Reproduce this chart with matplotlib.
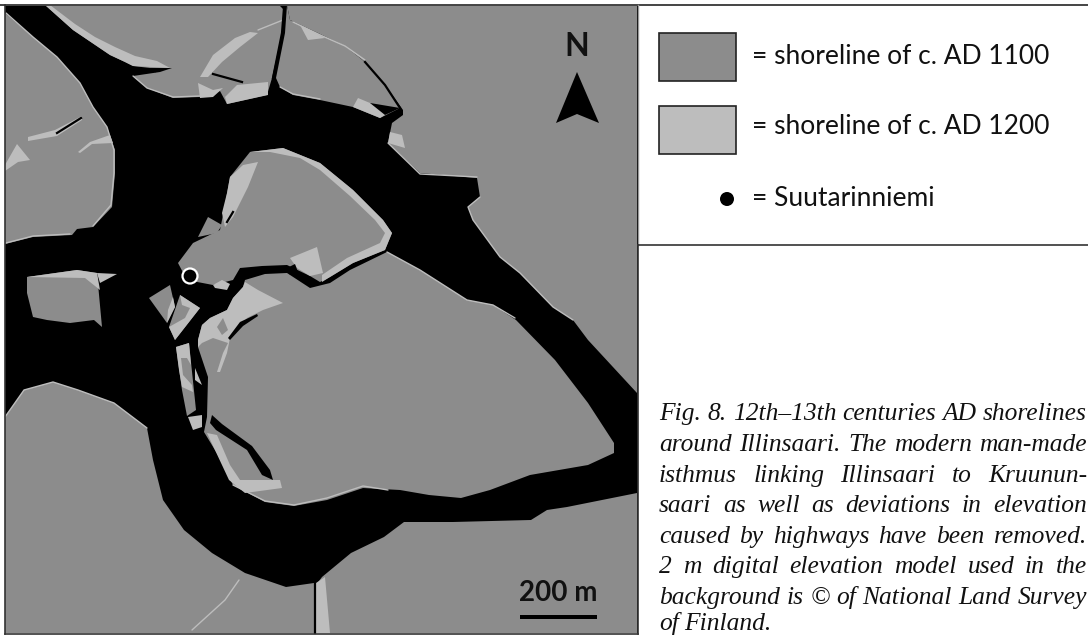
import matplotlib
matplotlib.use("Agg")
import matplotlib.pyplot as plt
from matplotlib.patches import Polygon, Rectangle, Circle

GRAY = "#8c8c8c"; LIGHT = "#bdbdbd"; BLACK = "#000000"

# ---- land of c. AD 1100 (map pixel coordinates)
land_west = [(5,13),(33,37),(57,57),(80,83),(93,107),(107,127),(115,150),(115,173),(112,207),(93,227),(77,229),(72,235),(33,237),(5,244)]
land_north_a = [(45,5),(73,30),(110,55),(125,62),(133,66),(150,68),(172,68),(160,72),(133,76),(147,88),(173,98),(200,97),(220,91),(227,104),(267,95),(272,78),(282,33),(284,10),(279,5)]
land_north_b = [(287,5),(285,33),(276,78),(280,87),(293,95),(320,100),(353,107),(380,118),(392,112),(400,108),(385,85),(365,62),(345,46),(320,34),(290,20),(287,5)]
land_ne = [(287,5),(290,20),(320,34),(345,46),(365,62),(385,85),(403,110),(403,115),(392,123),(388,143),(420,173),(477,178),(480,197),(468,207),(473,220),(500,257),(520,273),(553,307),(573,320),(588,340),(637,393),(637,5)]
land_upper = [(178,263),(193,243),(220,230),(225,205),(230,177),(250,152),(283,148),(320,163),(353,190),(383,220),(392,233),(385,250),(353,263),(330,277),(320,282),(310,276),(287,265),(262,266),(240,268),(233,280),(213,285),(187,280)]
land_big = [(387,252),(420,270),(467,300),(493,305),(516,320),(555,360),(588,403),(614,443),(614,453),(588,465),(530,475),(490,490),(461,498),(429,495),(400,490),(363,488),(327,500),(294,506),(265,502),(233,485),(218,455),(204,432),(207,417),(208,377),(198,347),(198,340),(202,325),(210,318),(227,310),(233,298),(243,287),(245,280),(265,274),(287,273),(310,288),(330,283),(350,270)]
land_southwest = [(5,417),(24,390),(53,382),(78,390),(114,403),(147,428),(153,460),(163,500),(184,530),(212,553),(245,573),(286,587),(314,583),(314,633),(5,633)]
land_southeast = [(316,633),(316,585),(322,577),(351,553),(384,537),(404,522),(453,522),(531,520),(547,510),(567,507),(637,493),(637,633)]
land_islet_w = [(27,277),(77,270),(97,273),(102,327),(94,320),(70,323),(47,320),(33,317),(27,293)]
land_tri = [(208,217),(222,225),(217,233),(198,237)]
land_islet_a = [(149,298),(170,285),(175,307),(167,323)]
land_islet_b = [(180,295),(200,308),(175,340),(169,327)]
land_long = [(176,347),(189,343),(196,410),(187,416),(182,390)]
lands = [land_west, land_north_a, land_north_b, land_ne, land_upper, land_big, land_southwest, land_southeast, land_islet_w, land_tri, land_islet_a, land_islet_b, land_long]

# ---- land emerged by c. AD 1200
light_band_a = [(45,5),(73,30),(110,55),(125,62),(133,66),(170,68),(157,61),(135,56),(115,47),(95,37),(75,24),(50,5)]
light_fan = [(200,77),(213,55),(235,38),(250,32),(258,33),(240,47),(222,62),(208,77)]
light_bay1 = [(198,83),(213,90),(223,88),(213,97),(200,98)]
light_bay2 = [(227,104),(268,95),(268,82),(237,85),(225,97)]
light_w1 = [(28,137),(55,130),(82,116),(82,120),(57,136),(28,141)]
light_w2 = [(78,152),(90,142),(110,135),(113,143),(92,144),(80,153)]
light_w3 = [(5,165),(17,144),(30,160),(18,162),(5,171)]
light_n_b = [(300,25),(325,38),(308,40)]
light_upper_n = [(250,152),(283,148),(320,163),(320,170),(300,158),(270,152)]
light_upper_e = [(320,163),(353,190),(383,220),(392,233),(385,250),(353,263),(330,277),(322,282),(322,275),(347,258),(380,243),(385,233),(375,220),(350,196),(320,170)]
light_upper_w = [(230,177),(243,165),(258,162),(248,187),(233,217),(225,227),(222,213),(227,193)]
light_upper_s = [(213,285),(222,280),(230,284),(227,290),(215,288)]
light_spit = [(353,107),(380,118),(390,112),(370,103),(358,98)]
light_harbour = [(390,132),(402,135),(405,148),(388,143)]
light_neck_e = [(290,258),(317,247),(323,273),(310,276),(297,268)]
light_neck_w = [(198,340),(202,325),(210,318),(227,310),(233,298),(243,287),(245,282),(258,290),(283,303),(263,310),(247,318),(230,338),(227,353),(220,372),(217,372),(223,353),(228,343),(213,338),(202,343),(198,347)]
light_isl_w_top = [(27,277),(77,270),(97,273),(100,290),(85,278)]
light_isl_w_tip = [(97,273),(117,274),(100,283)]
light_isl_a = [(173,297),(175,307),(167,323),(168,310)]
light_isl_b = [(180,295),(200,308),(175,340),(169,327),(185,318),(190,308),(182,305)]
light_long_top = [(176,347),(189,343),(191,365),(187,358),(181,358),(183,375),(192,385),(193,392),(182,387),(179,370)]
light_slim = [(195,368),(202,385),(195,380)]
light_small_isl = [(188,417),(202,415),(202,427),(193,430)]
light_hook = [(207,433),(217,435),(230,465),(240,480),(280,480),(282,488),(245,493),(229,480)]
light_south = [(316,583),(325,577),(330,633),(314,633)]
lights = [light_band_a, light_fan, light_bay1, light_bay2, light_w1, light_w2, light_w3, light_n_b, light_upper_n, light_upper_e, light_upper_w, light_upper_s, light_spit, light_harbour, light_neck_e, light_neck_w, light_isl_w_top, light_isl_w_tip, light_isl_a, light_isl_b, light_long_top, light_slim, light_small_isl, light_hook, light_south]
gray_in_neck = [(217,327),(223,318),(228,330),(222,335)]

# thin shores of AD 1200
coast_west = [(6,13),(33,37),(57,57),(80,83),(93,107),(107,127),(114,150),(114,173),(111,205),(93,226)]
coast_west_s = [(6,243),(33,236),(70,234)]
coast_lobe = [(133,76),(147,88),(173,97),(200,96)]
coast_b = [(280,87),(293,94),(320,99)]
coast_lobe_b = [(293,22),(320,35),(345,46),(365,60)]
coast_ne1 = [(388,143),(420,174),(477,177)]
coast_ne2 = [(480,197),(468,207),(473,220),(500,257),(520,273),(553,307),(573,320)]
coast_big_n = [(387,252),(420,270),(467,300),(493,305),(515,318)]
coast_big_s = [(233,485),(265,501),(294,505),(327,498),(363,486),(388,490)]
coast_sw = [(5,417),(24,390),(53,382),(78,390),(114,403),(147,428)]
coast_road = [(239,580),(225,600),(192,630)]
coast_thin = [(258,30),(283,20)]
coasts = [coast_west, coast_west_s, coast_lobe, coast_b, coast_lobe_b, coast_ne1, coast_ne2, coast_big_n, coast_big_s, coast_sw, coast_road, coast_thin]

# black slits and channels
slit_north = [(284,8),(282,33),(273,78)]
slit_bay = [(213,74),(242,82)]
slit_w = [(57,133),(81,118)]
slit_b = [(365,62),(385,85),(400,108)]
slit_south = [(315,583),(315,633)]
slit_upper = [(233,212),(227,222)]
slit_isl = [(155,71),(150,70)]
slits = [slit_north, slit_bay, slit_w, slit_b, slit_south, slit_upper, slit_isl]
channel_small = [(210,423),(216,430),(247,450),(262,475),(273,480),(270,470),(252,446),(222,424),(212,415)]
channel_gap = [(370,103),(400,108),(385,115)]
channel_neck = [(228,338),(240,322),(257,314),(258,316),(243,326),(230,340)]
channel_pool = [(287,268),(295,264),(298,272),(290,275)]

north_arrow = [(577,72),(556,123),(577,114),(599,123)]
site_xy = (190,276)
legend_labels = ["= shoreline of c. AD 1100", "= shoreline of c. AD 1200", "= Suutarinniemi"]
caption_lines = ["Fig. 8. 12th–13th centuries AD shorelines",
                 "around Illinsaari. The modern man-made",
                 "isthmus linking Illinsaari to Kruunun-",
                 "saari as well as deviations in elevation",
                 "caused by highways have been removed.",
                 "2 m digital elevation model used in the",
                 "background is © of National Land Survey",
                 "of Finland."]
caption_base = [420,451,482,512,543,573,604,630]

fig = plt.figure(figsize=(10.88,6.35), dpi=100)
ax = fig.add_axes([0,0,1,1]); ax.set_xlim(0,1088); ax.set_ylim(635,0); ax.axis("off")

ax.add_patch(Rectangle((5,5),633,628,fc=BLACK,ec="none",zorder=1))
for p in lands:
    ax.add_patch(Polygon(p,closed=True,fc=GRAY,ec="none",zorder=2))
for p in lights:
    ax.add_patch(Polygon(p,closed=True,fc=LIGHT,ec="none",zorder=3))
ax.add_patch(Polygon(gray_in_neck,closed=True,fc=GRAY,ec="none",zorder=3.5))
for p in coasts:
    ax.plot(*zip(*p),color=LIGHT,lw=1.0,zorder=3,solid_capstyle="round")
for p in slits:
    ax.plot(*zip(*p),color=BLACK,lw=1.6,zorder=4)
for p in [channel_small, channel_gap, channel_neck, channel_pool]:
    ax.add_patch(Polygon(p,closed=True,fc=BLACK,ec="none",zorder=4))

# frame
FR = "#333333"
ax.plot([0,1088],[5,5],color="#444444",lw=1.4,zorder=6)
ax.plot([5,5],[5,634],color=FR,lw=1.2,zorder=6)
ax.plot([5,638],[634,634],color=FR,lw=1.2,zorder=6)
ax.plot([638,638],[5,245],color="#999999",lw=1.0,zorder=6)
ax.plot([638,638],[245,634],color=FR,lw=1.2,zorder=6)
ax.plot([638,1088],[245,245],color="#333333",lw=1.2,zorder=6)

# site
ax.add_patch(Circle(site_xy,7.5,fc=BLACK,ec="white",lw=1.6,zorder=7))
# north
ax.add_patch(Polygon(north_arrow,closed=True,fc=BLACK,ec="none",zorder=7))
ax.text(577,47,"N",family="Lato",weight="bold",fontsize=23,ha="center",va="center",color="#111111",zorder=7)
# scale
ax.text(558,593,"200 m",family="Lato",weight="bold",fontsize=20,ha="center",va="center",color="#111111",zorder=7)
ax.add_patch(Rectangle((520,615),77,4,fc=BLACK,ec="none",zorder=7))

# legend
ax.add_patch(Rectangle((658.5,32.5),77,48,fc=GRAY,ec="#222222",lw=1.2))
ax.add_patch(Rectangle((658.5,105.5),77,48,fc=LIGHT,ec="#222222",lw=1.2))
ax.add_patch(Circle((727,199),7,fc=BLACK,ec="none"))
for y,t in zip([57,127,199],legend_labels):
    ax.text(752,y,t,family="Lato",fontsize=19,ha="left",va="center",color="#111111")

# caption, justified word by word
fig.canvas.draw()
r = fig.canvas.get_renderer()
X0, X1 = 659, 1087
for i,(t,yb) in enumerate(zip(caption_lines,caption_base)):
    words = t.split(" ")
    arts = [ax.text(0,yb,w,family="Liberation Serif",style="italic",fontsize=18.4,ha="left",va="baseline",color="#111111") for w in words]
    ws = [a.get_window_extent(r).width for a in arts]
    sp = 5.0 if i==len(caption_lines)-1 else (X1-X0-sum(ws))/(len(words)-1)
    x = X0
    for a,w in zip(arts,ws):
        a.set_x(x); x += w+sp

fig.savefig("out.png",dpi=100)
